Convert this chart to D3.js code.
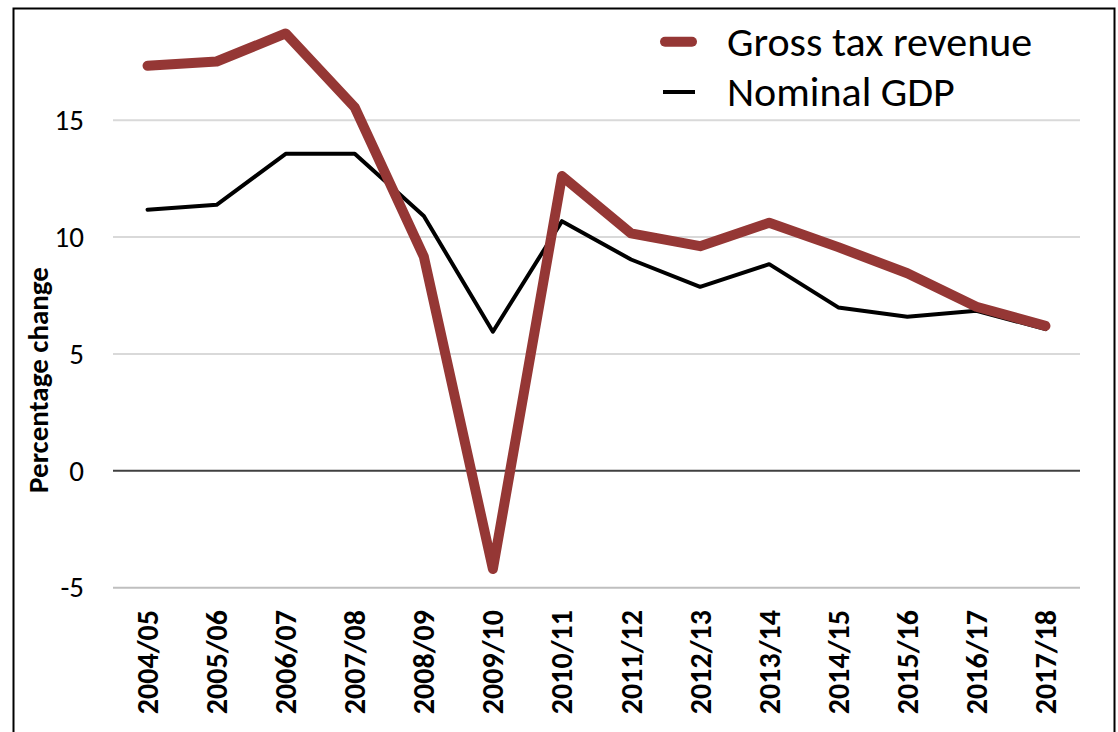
<!DOCTYPE html>
<html>
<head>
<meta charset="utf-8">
<script src="https://cdn.jsdelivr.net/npm/d3@7"></script>
<style>
  body { margin: 0; background: #fff; }
  svg { display: block; }
</style>
</head>
<body>
<div id="chart"></div>
<script>
// datos
const years = ["2004/05", "2005/06", "2006/07", "2007/08", "2008/09", "2009/10", "2010/11",
  "2011/12", "2012/13", "2013/14", "2014/15", "2015/16", "2016/17", "2017/18"];
const grossTax = [17.33, 17.51, 18.71, 15.55, 9.16, -4.2, 12.61, 10.16, 9.61, 10.61, 9.57, 8.45, 7.02, 6.2];
const nominalGdp = [11.17, 11.38, 13.56, 13.56, 10.9, 5.95, 10.68, 9.04, 7.87, 8.84, 6.99, 6.59, 6.85, 6.06];
const yTicks = [-5, 0, 5, 10, 15];
const seriesNames = ["Gross tax revenue", "Nominal GDP"];

const width = 1118;
const height = 732;
const font = "Carlito, Calibri, Lato, sans-serif";

const svg = d3.select("#chart")
  .append("svg")
  .attr("width", width)
  .attr("height", height)
  .attr("viewBox", [0, 0, width, height]);

// marco del grafico
svg.append("rect")
  .attr("x", 13.5)
  .attr("y", 8.5)
  .attr("width", 1101)
  .attr("height", 760)
  .attr("fill", "none")
  .attr("stroke", "#000")
  .attr("stroke-width", 2);

const x = d3.scaleBand()
  .domain(years)
  .range([113, 1080]);

const y = d3.scaleLinear()
  .domain([-5, 20])
  .range([587.7, 3.3]);

const xc = d => x(d) + x.bandwidth() / 2;

// lineas de la cuadricula
svg.append("g")
  .selectAll("line")
  .data(yTicks)
  .join("line")
    .attr("x1", 113)
    .attr("x2", 1080)
    .attr("y1", d => y(d))
    .attr("y2", d => y(d))
    .attr("stroke", d => d === 0 ? "#404040" : d === -5 ? "#bfbfbf" : "#d9d9d9")
    .attr("stroke-width", 2);

// eje y (guion normal, no signo menos)
svg.append("g")
    .attr("transform", "translate(84,0)")
    .call(d3.axisLeft(y).tickValues(yTicks).tickSize(0).tickPadding(0).tickFormat(d => String(d)))
    .call(g => g.select(".domain").remove())
    .call(g => g.selectAll("text")
      .attr("font-family", font)
      .attr("font-size", 29)
      .attr("fill", "#000"));

svg.append("text")
  .attr("transform", "translate(38,380) rotate(-90)")
  .attr("text-anchor", "middle")
  .attr("dy", "0.35em")
  .attr("font-family", font)
  .attr("font-weight", "bold")
  .attr("font-size", 29)
  .text("Percentage change");

// eje x, etiquetas giradas
svg.append("g")
  .attr("transform", "translate(0,610)")
  .call(d3.axisBottom(x).tickSize(0).tickPadding(0))
  .call(g => g.select(".domain").remove())
  .call(g => g.selectAll(".tick text")
    .attr("transform", "rotate(-90)")
    .attr("text-anchor", "end")
    .attr("x", 0)
    .attr("y", 0)
    .attr("dy", "0.35em")
    .attr("font-family", font)
    .attr("font-weight", "bold")
    .attr("font-size", 30)
    .attr("fill", "#000"));

const line = d3.line()
  .x((d, i) => xc(years[i]))
  .y(d => y(d));

svg.append("path")
  .datum(nominalGdp)
  .attr("fill", "none")
  .attr("stroke", "#000")
  .attr("stroke-width", 4)
  .attr("stroke-linejoin", "round")
  .attr("stroke-linecap", "round")
  .attr("d", line);

svg.append("path")
  .datum(grossTax)
  .attr("fill", "none")
  .attr("stroke", "#953735")
  .attr("stroke-width", 10)
  .attr("stroke-linejoin", "round")
  .attr("stroke-linecap", "round")
  .attr("d", line);

// leyenda
const legend = svg.append("g");
const legendStyles = [
  { color: "#953735", w: 10, x1: 665, x2: 692, y: 41.7 },
  { color: "#000", w: 4, x1: 663, x2: 695, y: 92 }
];

legend.selectAll("line")
  .data(legendStyles)
  .join("line")
    .attr("x1", d => d.x1)
    .attr("x2", d => d.x2)
    .attr("y1", d => d.y)
    .attr("y2", d => d.y)
    .attr("stroke", d => d.color)
    .attr("stroke-width", d => d.w)
    .attr("stroke-linecap", (d, i) => i === 0 ? "round" : "butt");

legend.selectAll("text")
  .data(seriesNames)
  .join("text")
    .attr("x", 727)
    .attr("y", (d, i) => i === 0 ? 56 : 106)
    .attr("font-family", font)
    .attr("font-size", 42)
    .attr("fill", "#000")
    .text(d => d);
</script>
</body>
</html>
